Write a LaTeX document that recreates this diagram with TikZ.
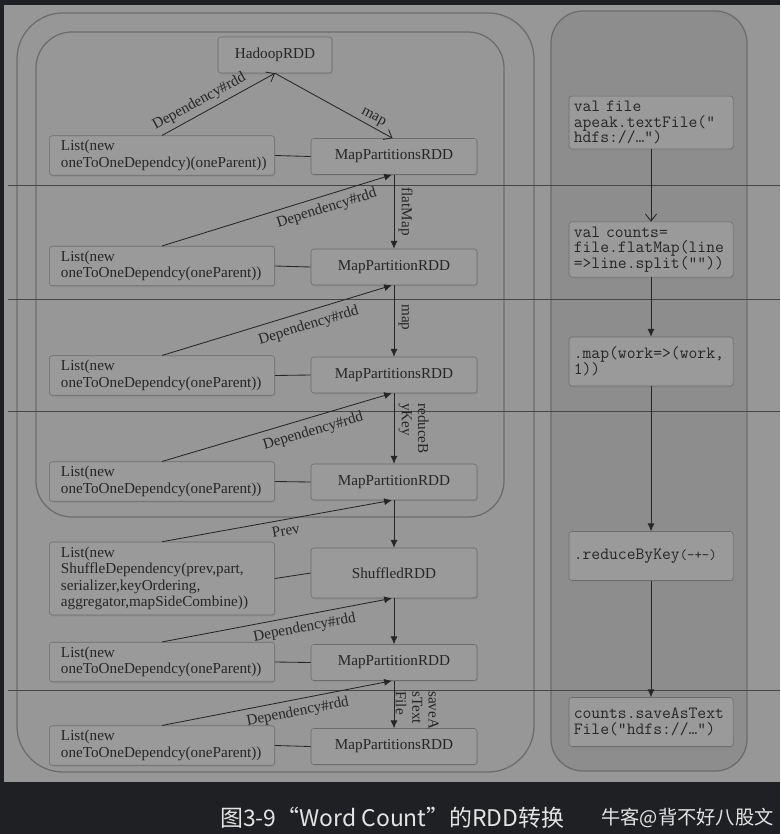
\documentclass[tikz,border=0pt]{standalone}
\usepackage{fontspec}
\setmainfont{Liberation Serif}
\newfontfamily\cjkfont{Noto Sans CJK SC}
\usetikzlibrary{arrows.meta, shadows}

\definecolor{panelgray}{HTML}{979797}
\definecolor{colgray}{HTML}{8D8D8D}
\definecolor{boxgray}{HTML}{9A9A9A}
\definecolor{edgegray}{HTML}{6C6C6C}
\definecolor{inkgray}{HTML}{262626}
\definecolor{darkbg}{HTML}{1F2023}
\definecolor{captext}{HTML}{E4E4E4}

\begin{document}
\begin{tikzpicture}[
      x=0.025cm, y=-0.025cm,
      rdd/.style={rectangle, draw=edgegray, fill=boxgray, rounded corners=2pt, minimum width=4.15cm, minimum height=0.9cm, text=inkgray, font=\fontsize{10.8}{11.6}\selectfont, drop shadow={shadow xshift=0.8pt, shadow yshift=-1.2pt, opacity=0.3}},
      deplist/.style={rdd, minimum width=0pt, text width=5.05cm, inner xsep=0.29cm, align=left},
      code/.style={rdd, minimum width=0pt, text width=3.86cm, inner xsep=0.12cm, minimum height=1.225cm, align=left, font=\ttfamily\fontsize{12.2}{11.2}\selectfont},
      arrow/.style={draw=inkgray, semithick, -{Latex[length=5.5pt, width=5pt]}},
      openarrow/.style={draw=inkgray, semithick, -{Straight Barb[length=5pt, width=8pt]}},
      link/.style={draw=inkgray, semithick},
      lbl/.style={font=\fontsize{10.8}{11.6}\selectfont, text=inkgray, sloped, inner sep=2pt},
      vlbl/.style={font=\fontsize{10.8}{11.6}\selectfont, text=inkgray, rotate=-90, anchor=south, align=left, inner sep=3pt},
      frame/.style={draw=edgegray, line width=0.9pt}
    ]
    % page and panels
    \fill[darkbg] (0,0) rectangle (780,834);
    \fill[panelgray] (4,5) rectangle (780,782);
    \draw[frame, rounded corners=1.15cm] (17,13) rectangle (534,772);
    \draw[frame, rounded corners=0.9cm] (36,32) rectangle (504,517);
    \draw[frame, fill=colgray, rounded corners=0.8cm] (551,11) rectangle (747,771);
    \foreach \y in {185,299,411,690}
      \draw[inkgray!85, thin] (8,\y) -- (780,\y);

    % RDD chain
    \node[rdd, minimum width=2.85cm] (hadoop) at (275,55) {HadoopRDD};
    \node[rdd] (mp1) at (394,156.5) {MapPartitionsRDD};
    \node[rdd] (mp2) at (394,267) {MapPartitionRDD};
    \node[rdd] (mp3) at (394,375) {MapPartitionsRDD};
    \node[rdd] (mp4) at (394,482) {MapPartitionRDD};
    \node[rdd, minimum height=1.25cm] (shuffled) at (394,573) {ShuffledRDD};
    \node[rdd] (mp6) at (394,662.5) {MapPartitionRDD};
    \node[rdd] (mp7) at (394,746.5) {MapPartitionsRDD};

    % dependency lists
    \node[deplist] (dep1) at (162,155.5) {List(new\\oneToOneDependcy)(oneParent))};
    \node[deplist] (dep2) at (162,266) {List(new\\oneToOneDependcy(oneParent))};
    \node[deplist] (dep3) at (162,375.5) {List(new\\oneToOneDependcy(oneParent))};
    \node[deplist] (dep4) at (162,481.5) {List(new\\oneToOneDependcy(oneParent))};
    \node[deplist, minimum height=1.825cm] (dep5) at (162,578.5) {List(new\\ShuffleDependency(prev,part,\\serializer,keyOrdering,\\aggregator,mapSideCombine))};
    \node[deplist] (dep6) at (162,662) {List(new\\oneToOneDependcy(oneParent))};
    \node[deplist] (dep7) at (162,745.5) {List(new\\oneToOneDependcy(oneParent))};

    % code column
    \node[code] (file) at (651,122.5) {val file\\apeak.textFile(”\\hdfs://…”)};
    \node[code] (counts) at (651,249.5) {val counts=\\file.flatMap(line\\=>line.split(””))};
    \node[code] (mapw) at (651,361.5) {.map(work=>(work,\\1))};
    \node[code] (reduce) at (651,556) {.reduceByKey{\fontsize{10}{10}\selectfont(-+-)}};
    \node[code] (save) at (651,722) {counts.saveAsText\\File(”hdfs://…”)};

    \draw[openarrow] (file) -- (counts);
    \draw[arrow] (counts) -- (mapw);
    \draw[arrow] (mapw) -- (reduce);
    \draw[arrow] (reduce) -- (save);

    % lists to rdds
    \draw[link] (dep1.east) -- (mp1.west);
    \draw[link] (dep2.east) -- (mp2.west);
    \draw[link] (dep3.east) -- (mp3.west);
    \draw[link] (dep4.east) -- (mp4.west);
    \draw[link] (dep5.east) -- (shuffled.west);
    \draw[link] (dep6.east) -- (mp6.west);
    \draw[link] (dep7.east) -- (mp7.west);

    % parents
    \draw[openarrow] (dep1.north) -- node[lbl, above=1pt, pos=0.38] {Dependency\#rdd} (hadoop.south);
    \draw[openarrow] (hadoop.south) -- node[lbl, above, pos=0.8] {map} ([xshift=-1pt]mp1.north);
    \draw[arrow] (dep2.north) -- node[lbl, below=2pt, pos=0.7] {Dependency\#rdd} ([xshift=-1.5pt]mp1.south);
    \draw[arrow] (dep3.north) -- node[lbl, below=3pt, pos=0.62] {Dependency\#rdd} ([xshift=-1.5pt]mp2.south);
    \draw[arrow] (dep4.north) -- node[lbl, below=3pt, pos=0.64] {Dependency\#rdd} ([xshift=-1.5pt]mp3.south);
    \draw[arrow] (dep5.north) -- node[lbl, below=2pt, pos=0.53] {Prev} ([xshift=-1.5pt]mp4.south);
    \draw[arrow] (dep6.north) -- node[lbl, below=2pt, pos=0.61] {Dependency\#rdd} ([xshift=-1.5pt]shuffled.south);
    \draw[arrow] (dep7.north) -- node[lbl, below=2pt, pos=0.58] {Dependency\#rdd} ([xshift=-1.5pt]mp6.south);

    % transformations
    \draw[arrow] (mp1) -- node[vlbl, pos=0.5] {flatMap} (mp2);
    \draw[arrow] (mp2) -- node[vlbl, pos=0.45] {map} (mp3);
    \draw[arrow] (mp3) -- node[vlbl, pos=0.5] {reduceB\\yKey} (mp4);
    \draw[arrow] (mp4) -- (shuffled);
    \draw[arrow] (shuffled) -- (mp6);
    \draw[arrow] (mp6) -- node[vlbl, pos=0.62, inner sep=1pt] {saveA\\sText\\File} (mp7);

    % caption
    \node[anchor=west, inner sep=0pt, text=captext, font=\cjkfont\fontsize{16.3}{20}\selectfont] (caption) at (220,818) {图3-9“Word Count”的RDD转换};
    \node[anchor=west, inner sep=0pt, text=captext, font=\cjkfont\fontsize{13.7}{18}\selectfont] (mark) at (601,818) {牛客@背不好八股文};
  \end{tikzpicture}
\end{document}
